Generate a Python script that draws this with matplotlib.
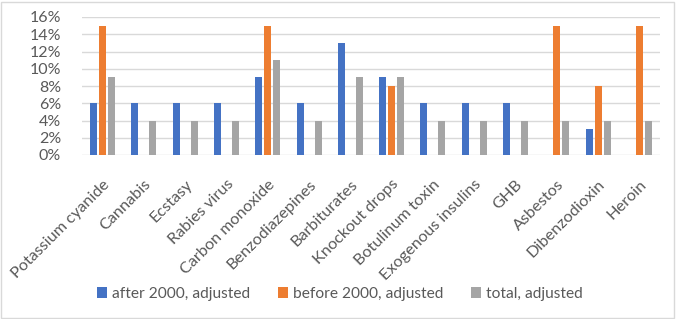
import numpy as np
import matplotlib.pyplot as plt
from matplotlib.ticker import PercentFormatter
from matplotlib.patches import Rectangle

categories = ["Potassium cyanide", "Cannabis", "Ecstasy", "Rabies virus",
              "Carbon monoxide", "Benzodiazepines", "Barbiturates", "Knockout drops",
              "Botulinum toxin", "Exogenous insulins", "GHB", "Asbestos",
              "Dibenzodioxin", "Heroin"]
after_2000 = [6, 6, 6, 6, 9, 6, 13, 9, 6, 6, 6, 0, 3, 0]
before_2000 = [15, 0, 0, 0, 15, 0, 0, 8, 0, 0, 0, 15, 8, 15]
total = [9, 4, 4, 4, 11, 4, 9, 9, 4, 4, 4, 4, 4, 4]

series = [("after 2000, adjusted", after_2000, "#4472C4"),
          ("before 2000, adjusted", before_2000, "#ED7D31"),
          ("total, adjusted", total, "#A5A5A5")]

plt.rcParams["font.family"] = ["Lato", "DejaVu Sans"]

fig = plt.figure(figsize=(6.76, 3.19), dpi=100)
ax = fig.add_axes([82 / 676, 1 - 155 / 319, 578 / 676, 138 / 319])

x = np.arange(len(categories))
w = 0.17
step = 0.218
for i, (name, vals, col) in enumerate(series):
    ax.bar(x + (i - 1) * step, vals, width=w, color=col, label=name, zorder=3)

ax.set_xlim(-0.5, len(categories) - 0.5)
ax.set_ylim(0, 16)
ax.set_yticks(range(0, 17, 2))
ax.yaxis.set_major_formatter(PercentFormatter(decimals=0))
ax.grid(axis="y", color="#D9D9D9", linewidth=1, zorder=0)
for s in ax.spines.values():
    s.set_visible(False)
ax.tick_params(length=0, colors="#595959")
ax.tick_params(axis="y", pad=15, labelsize=11.5)
ax.tick_params(axis="x", pad=16, labelsize=11.7)
ax.set_xticks(x)
ax.set_xticklabels(categories, rotation=45, ha="right", rotation_mode="anchor")

fig.legend(*ax.get_legend_handles_labels(), loc="center",
           bbox_to_anchor=(0.503, 1 - 294 / 319), ncol=3, frameon=False,
           fontsize=11.2, handlelength=0.65, handleheight=0.65, columnspacing=1.8,
           handletextpad=0.3, labelcolor="#595959")

fig.patches.append(Rectangle((0.002, 0.004), 0.995, 0.99, transform=fig.transFigure,
                             fill=False, edgecolor="#D9D9D9", linewidth=1))

fig.savefig("out.png", dpi=100)
